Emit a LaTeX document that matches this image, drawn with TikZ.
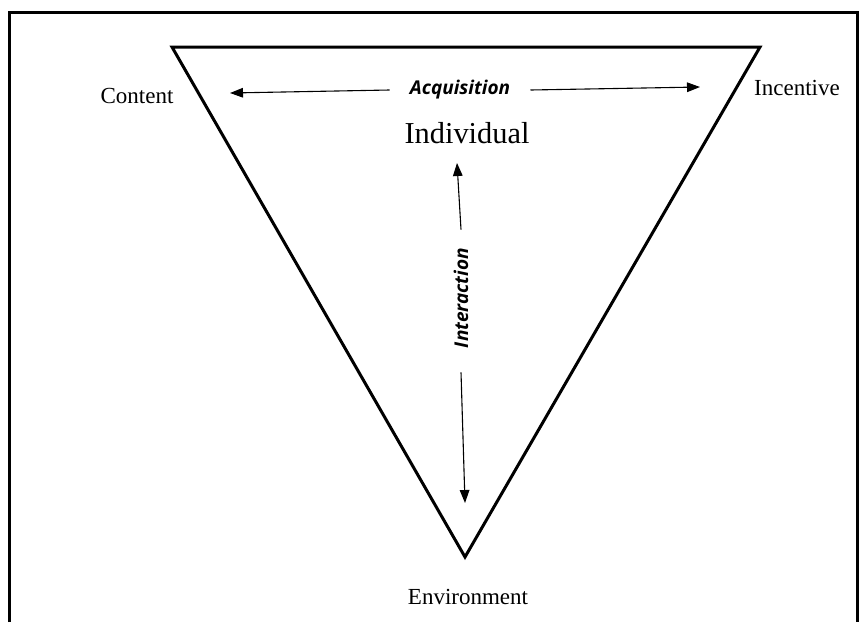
\documentclass[tikz,border=0pt]{standalone}
\usepackage{fontspec}
\setmainfont{Liberation Serif}
\newfontfamily\annotfont{Open Sans}
\usetikzlibrary{arrows.meta,positioning}

\tikzset{
  corner/.style={font=\fontsize{11.5}{13}\selectfont, inner sep=1pt},
  relation/.style={font=\annotfont\bfseries\itshape\fontsize{9.5}{11}\selectfont, inner sep=1pt},
  link/.style={-{Triangle[length=6.5pt,width=4.8pt]}, line width=0.55pt},
}

\begin{document}
\begin{tikzpicture}[x=0.5pt, y=-0.5pt]
  \useasboundingbox (0,0) rectangle (865,622);
  % frame, open at the bottom
  \draw[line width=1.5pt] (9,622) -- (9,12) -- (857,12) -- (857,622);

  % the triangle
  \coordinate (tl) at (172,47);
  \coordinate (tr) at (760,47);
  \coordinate (bt) at (465,557);
  \draw[line width=1.5pt, line join=miter] (tl) -- (tr) -- (bt) -- cycle;

  \node[corner] (content) at (137,96) {Content};
  \node[corner] (incentive) at (797,88) {Incentive};
  \node[corner] (environment) at (468,597) {Environment};
  \node[font=\fontsize{15.2}{17}\selectfont, inner sep=1pt] (individual) at (467,133) {Individual};

  \node[relation] (acquisition) at (460,90) {Acquisition};
  \node[relation, rotate=90] (interaction) at (461,298) {Interaction};

  % arrow ends
  \coordinate (acqL) at (230,93);
  \coordinate (acqR) at (700,87);
  \coordinate (intT) at (457,163);
  \coordinate (intB) at (465,503);

  \draw[link] ([xshift=-9pt]acquisition.west) -- (acqL);
  \draw[link] ([xshift=9pt]acquisition.east) -- (acqR);
  \draw[link] ([yshift=8pt]interaction.east) -- (intT);
  \draw[link] ([yshift=-11pt]interaction.west) -- (intB);
\end{tikzpicture}
\end{document}
